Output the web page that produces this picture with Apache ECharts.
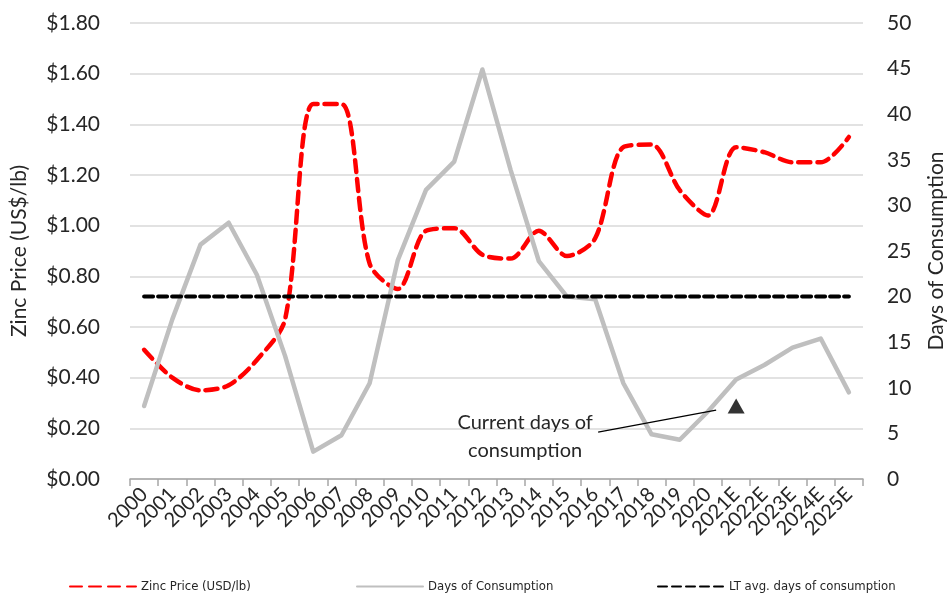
<!DOCTYPE html>
<html>
<head>
<meta charset="utf-8">
<script src="https://cdn.jsdelivr.net/npm/echarts@6/dist/echarts.min.js"></script>
<style>
html,body{margin:0;padding:0;background:#fff;}
#c{width:950px;height:597px;}
</style>
</head>
<body>
<div id="c"></div>
<script>
const years = ['2000','2001','2002','2003','2004','2005','2006','2007','2008','2009','2010','2011','2012','2013','2014','2015','2016','2017','2018','2019','2020','2021E','2022E','2023E','2024E','2025E'];
const zincPrice = [0.51,0.40,0.35,0.37,0.47,0.63,1.48,1.48,0.85,0.75,0.98,0.99,0.885,0.87,0.98,0.88,0.95,1.31,1.32,1.14,1.04,1.31,1.29,1.25,1.25,1.35];
const daysOfConsumption = [8,17.5,25.7,28.1,22.4,13.5,3.0,4.8,10.5,24.0,31.7,34.8,44.9,33.9,23.9,20.0,19.7,10.5,4.9,4.3,7.4,10.9,12.5,14.4,15.4,9.5];
const ltAvgDays = years.map(() => 20);
const currentDaysYear = '2021E';
const currentDays = 8;
const leftTicks = {min:0, max:1.8, interval:0.2};
const rightTicks = {min:0, max:50, interval:5};

const FONT = 'Lato, "Open Sans", sans-serif';
const LEGFONT = '"Liberation Sans Narrow", "DejaVu Sans Condensed", "Liberation Sans", sans-serif';
const TXT = '#262626';

const chart = echarts.init(document.getElementById('c'), null, {renderer:'canvas'});
const triData = years.map(y => y === currentDaysYear ? currentDays : null);

const legendBase = {
  orient:'horizontal', top:580, padding:0, itemWidth:66, itemHeight:14, itemGap:0,
  itemStyle:{opacity:0},
  textStyle:{fontFamily:LEGFONT, fontSize:13, color:TXT}
};

chart.setOption({
  animation:false,
  backgroundColor:'#fff',
  grid:{left:130, right:87, top:23, bottom:118, containLabel:false, outerBoundsMode:'none'},
  legend:[
    Object.assign({}, legendBase, {left:69, data:['Zinc Price (USD/lb)']}),
    Object.assign({}, legendBase, {left:356, data:['Days of Consumption']}),
    Object.assign({}, legendBase, {left:657, data:['LT avg. days of consumption']})
  ],
  xAxis:{
    type:'category', data:years, boundaryGap:true,
    axisLine:{show:true, lineStyle:{color:'#A6A6A6', width:1.5}},
    axisTick:{show:true, length:7, interval:0, lineStyle:{color:'#A6A6A6', width:1.5}},
    axisLabel:{interval:0, rotate:45, fontSize:20, fontFamily:FONT, color:TXT, margin:12},
    splitLine:{show:false}
  },
  yAxis:[
    {
      type:'value', min:leftTicks.min, max:leftTicks.max, interval:leftTicks.interval,
      position:'left',
      name:'Zinc Price (US$/lb)', nameLocation:'middle', nameGap:100, nameRotate:90,
      nameTextStyle:{fontSize:21, fontFamily:FONT, color:TXT},
      axisLine:{show:false}, axisTick:{show:false},
      axisLabel:{formatter:v => '$' + v.toFixed(2), fontSize:21, fontFamily:FONT, color:TXT, margin:30},
      splitLine:{show:true, lineStyle:{color:'#D9D9D9', width:1.5}}
    },
    {
      type:'value', min:rightTicks.min, max:rightTicks.max, interval:rightTicks.interval,
      position:'right',
      name:'Days of Consumption', nameLocation:'middle', nameGap:63, nameRotate:90,
      nameTextStyle:{fontSize:21, fontFamily:FONT, color:TXT},
      axisLine:{show:false}, axisTick:{show:false},
      axisLabel:{fontSize:21, fontFamily:FONT, color:TXT, margin:24},
      splitLine:{show:false}
    }
  ],
  series:[
    {
      name:'Zinc Price (USD/lb)', type:'line', yAxisIndex:0, data:zincPrice,
      smooth:0.3, symbol:'none', z:2,
      lineStyle:{color:'#FF0000', width:4.5, type:[12,7], cap:'round'},
      itemStyle:{color:'#FF0000'}
    },
    {
      name:'Days of Consumption', type:'line', yAxisIndex:1, data:daysOfConsumption,
      symbol:'none', z:3,
      lineStyle:{color:'#BFBFBF', width:4.5, cap:'round', join:'round'},
      itemStyle:{color:'#BFBFBF'}
    },
    {
      name:'LT avg. days of consumption', type:'line', yAxisIndex:1, data:ltAvgDays,
      symbol:'none', z:4,
      lineStyle:{color:'#000000', width:4, type:[9,5], cap:'round'},
      itemStyle:{color:'#000000'}
    },
    {
      name:'Current', type:'scatter', yAxisIndex:1, data:triData,
      symbol:'triangle', symbolSize:[17,15], z:5,
      itemStyle:{color:'#000000'}
    }
  ]
});

const p = chart.convertToPixel({seriesIndex:3}, [currentDaysYear, currentDays]);
chart.setOption({
  graphic:[
    {
      type:'line', z:10,
      shape:{x1:p[0]-138, y1:p[1]+26, x2:p[0]-20, y2:p[1]+4},
      style:{stroke:'#000', lineWidth:1.2}
    },
    {
      type:'text', z:10, left:p[0]-211-80, top:p[1]+3,
      style:{text:'Current days of\nconsumption', font:'20px ' + FONT, fill:TXT, align:'center', width:160, lineHeight:28, textAlign:'center'}
    }
  ]
});
</script>
</body>
</html>
